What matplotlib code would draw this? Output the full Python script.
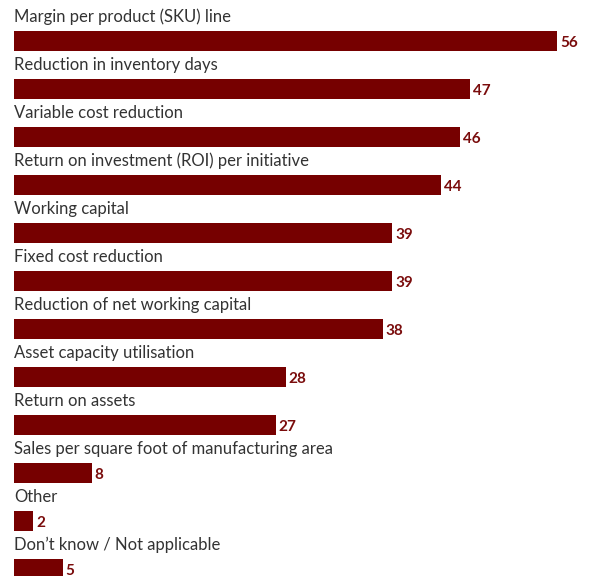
import numpy as np
import matplotlib.pyplot as plt

plt.rcParams['font.family'] = ['Lato', 'DejaVu Sans']

labels = [
    'Margin per product (SKU) line',
    'Reduction in inventory days',
    'Variable cost reduction',
    'Return on investment (ROI) per initiative',
    'Working capital',
    'Fixed cost reduction',
    'Reduction of net working capital',
    'Asset capacity utilisation',
    'Return on assets',
    'Sales per square foot of manufacturing area',
    'Other',
    'Don\u2019t know / Not applicable',
]
values = [56, 47, 46, 44, 39, 39, 38, 28, 27, 8, 2, 5]

bar_color = '#760000'
value_color = '#7a0c0c'
text_color = '#333333'

fig = plt.figure(figsize=(5.91, 5.76), dpi=100)
ax = fig.add_axes([0, 0, 1, 1])

pos = np.arange(len(values))
ax.barh(pos, values, height=0.42, color=bar_color, align='center')

for i, (lab, v) in enumerate(zip(labels, values)):
    ax.text(0, i - 0.4, lab, ha='left', va='baseline', fontsize=12,
            color=text_color)
    ax.text(v + 0.3, i + 0.13, str(v), ha='left', va='baseline',
            fontsize=11, fontweight='bold', color=value_color)

px = 9.7
ax.set_xlim(-14 / px, (591 - 14) / px)
ax.set_ylim((576 - 41) / 48, -41 / 48)
ax.axis('off')

fig.savefig('out.png', dpi=100)
